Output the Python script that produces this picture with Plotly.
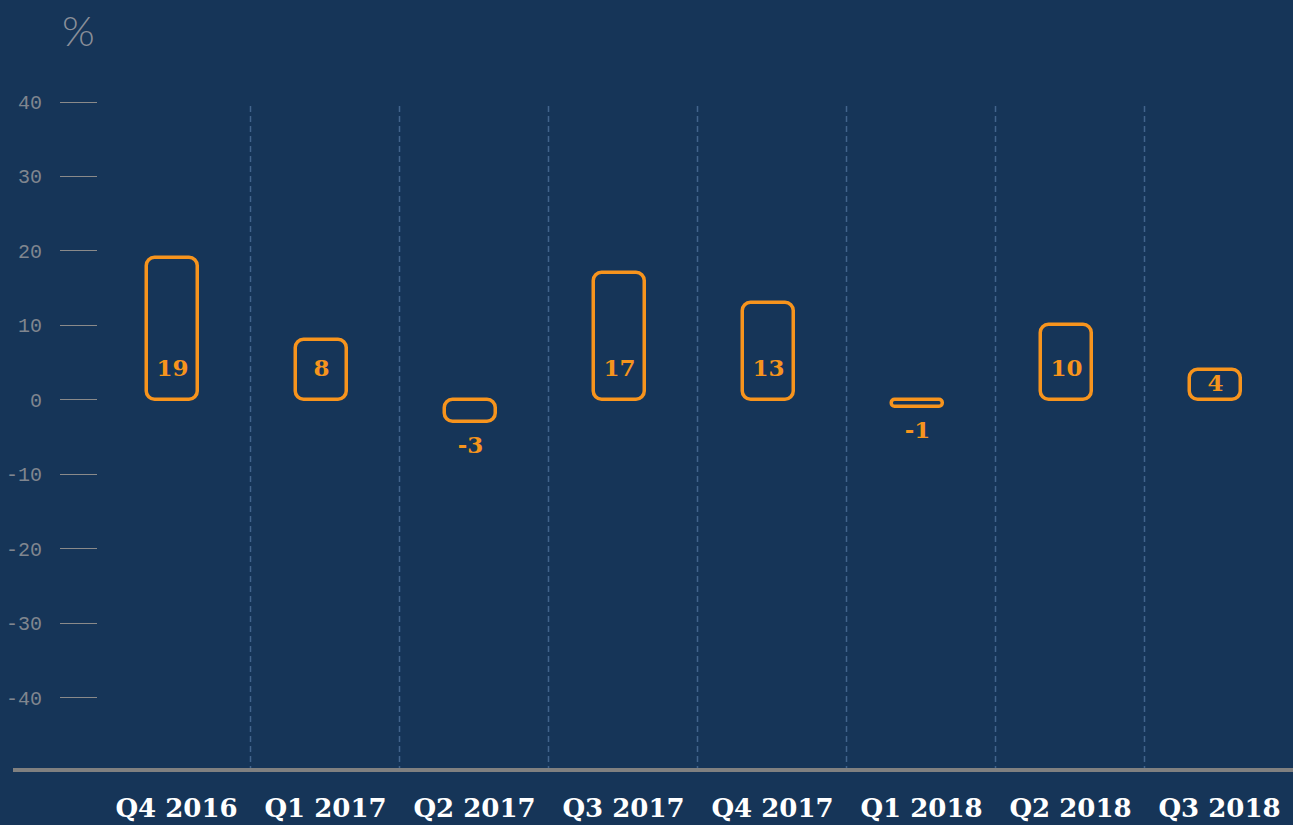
import plotly.graph_objects as go

categories = ["Q4 2016", "Q1 2017", "Q2 2017", "Q3 2017", "Q4 2017", "Q1 2018", "Q2 2018", "Q3 2018"]
values = [19, 8, -3, 17, 13, -1, 10, 4]
y_ticks = [40, 30, 20, 10, 0, -10, -20, -30, -40]

BG = "#163558"
ORANGE = "#f7941d"
GRAY = "#8a8a8a"
BAR_W = 0.34
STROKE = 3.5
ML, MR = 98, 3
PX_PER_CAT = (1293 - ML - MR) / len(categories)

label_y = [min(v, 8) / 2 if v >= 0 else v - 3.4 for v in values]

fig = go.Figure()
# explicit base -> plotly rounds both ends of each bar
fig.add_trace(go.Bar(
    x=categories, y=values, base=[0] * len(values), width=BAR_W,
    marker=dict(color="rgba(0,0,0,0)", line=dict(color=ORANGE, width=STROKE), cornerradius=9),
    hoverinfo="skip",
))
fig.add_trace(go.Scatter(
    x=categories, y=label_y, mode="text",
    text=[str(v) for v in values], textposition="middle center",
    textfont=dict(family="DejaVu Serif", size=23, color=ORANGE, weight="bold"),
    hoverinfo="skip",
))

shapes = []
for i in range(len(categories) - 1):
    xb = i + 0.5 + 3.5 / PX_PER_CAT
    shapes.append(dict(type="line", xref="x", yref="y", x0=xb, x1=xb, y0=-50, y1=40,
                       line=dict(color="#42648c", width=1.5, dash="6px,4px"), layer="below"))
shapes.append(dict(type="line", xref="paper", yref="y", x0=-(ML - 13) / (1293 - ML - MR), x1=1.005,
                   y0=-50, y1=-50, line=dict(color="#808080", width=8)))

fig.update_layout(
    width=1293, height=825,
    paper_bgcolor=BG, plot_bgcolor=BG,
    margin=dict(l=ML, r=MR, t=102, b=53),
    showlegend=False,
    barmode="overlay",
    bargap=0,
    shapes=shapes,
    xaxis=dict(type="category", range=[-0.5, 7.5], showgrid=False, zeroline=False, showline=False,
               ticks="", tickfont=dict(family="DejaVu Serif", size=26, color="white", weight="bold"),
               ticklabelstandoff=18, ticklabelshift=4, fixedrange=True),
    yaxis=dict(range=[-50, 40], tickvals=y_ticks, ticktext=[str(t) for t in y_ticks],
               showgrid=False, zeroline=False, showline=False,
               ticks="outside", ticklen=37, tickcolor=GRAY, tickwidth=1,
               tickfont=dict(family="Liberation Mono", size=20, color="#80868f"),
               ticklabelstandoff=14, fixedrange=True),
    annotations=[dict(text="%", xref="paper", yref="paper", x=(78 - ML) / (1293 - ML - MR),
                      y=1 + (102 - 30) / (825 - 102 - 53),
                      xanchor="center", yanchor="middle", showarrow=False,
                      font=dict(family="Lato", size=42, color="#8a8f99", weight=300))],
)

fig.write_html("out.html", config={"displayModeBar": False},
               post_script="document.body.style.margin='0';document.body.style.background='#163558';")
